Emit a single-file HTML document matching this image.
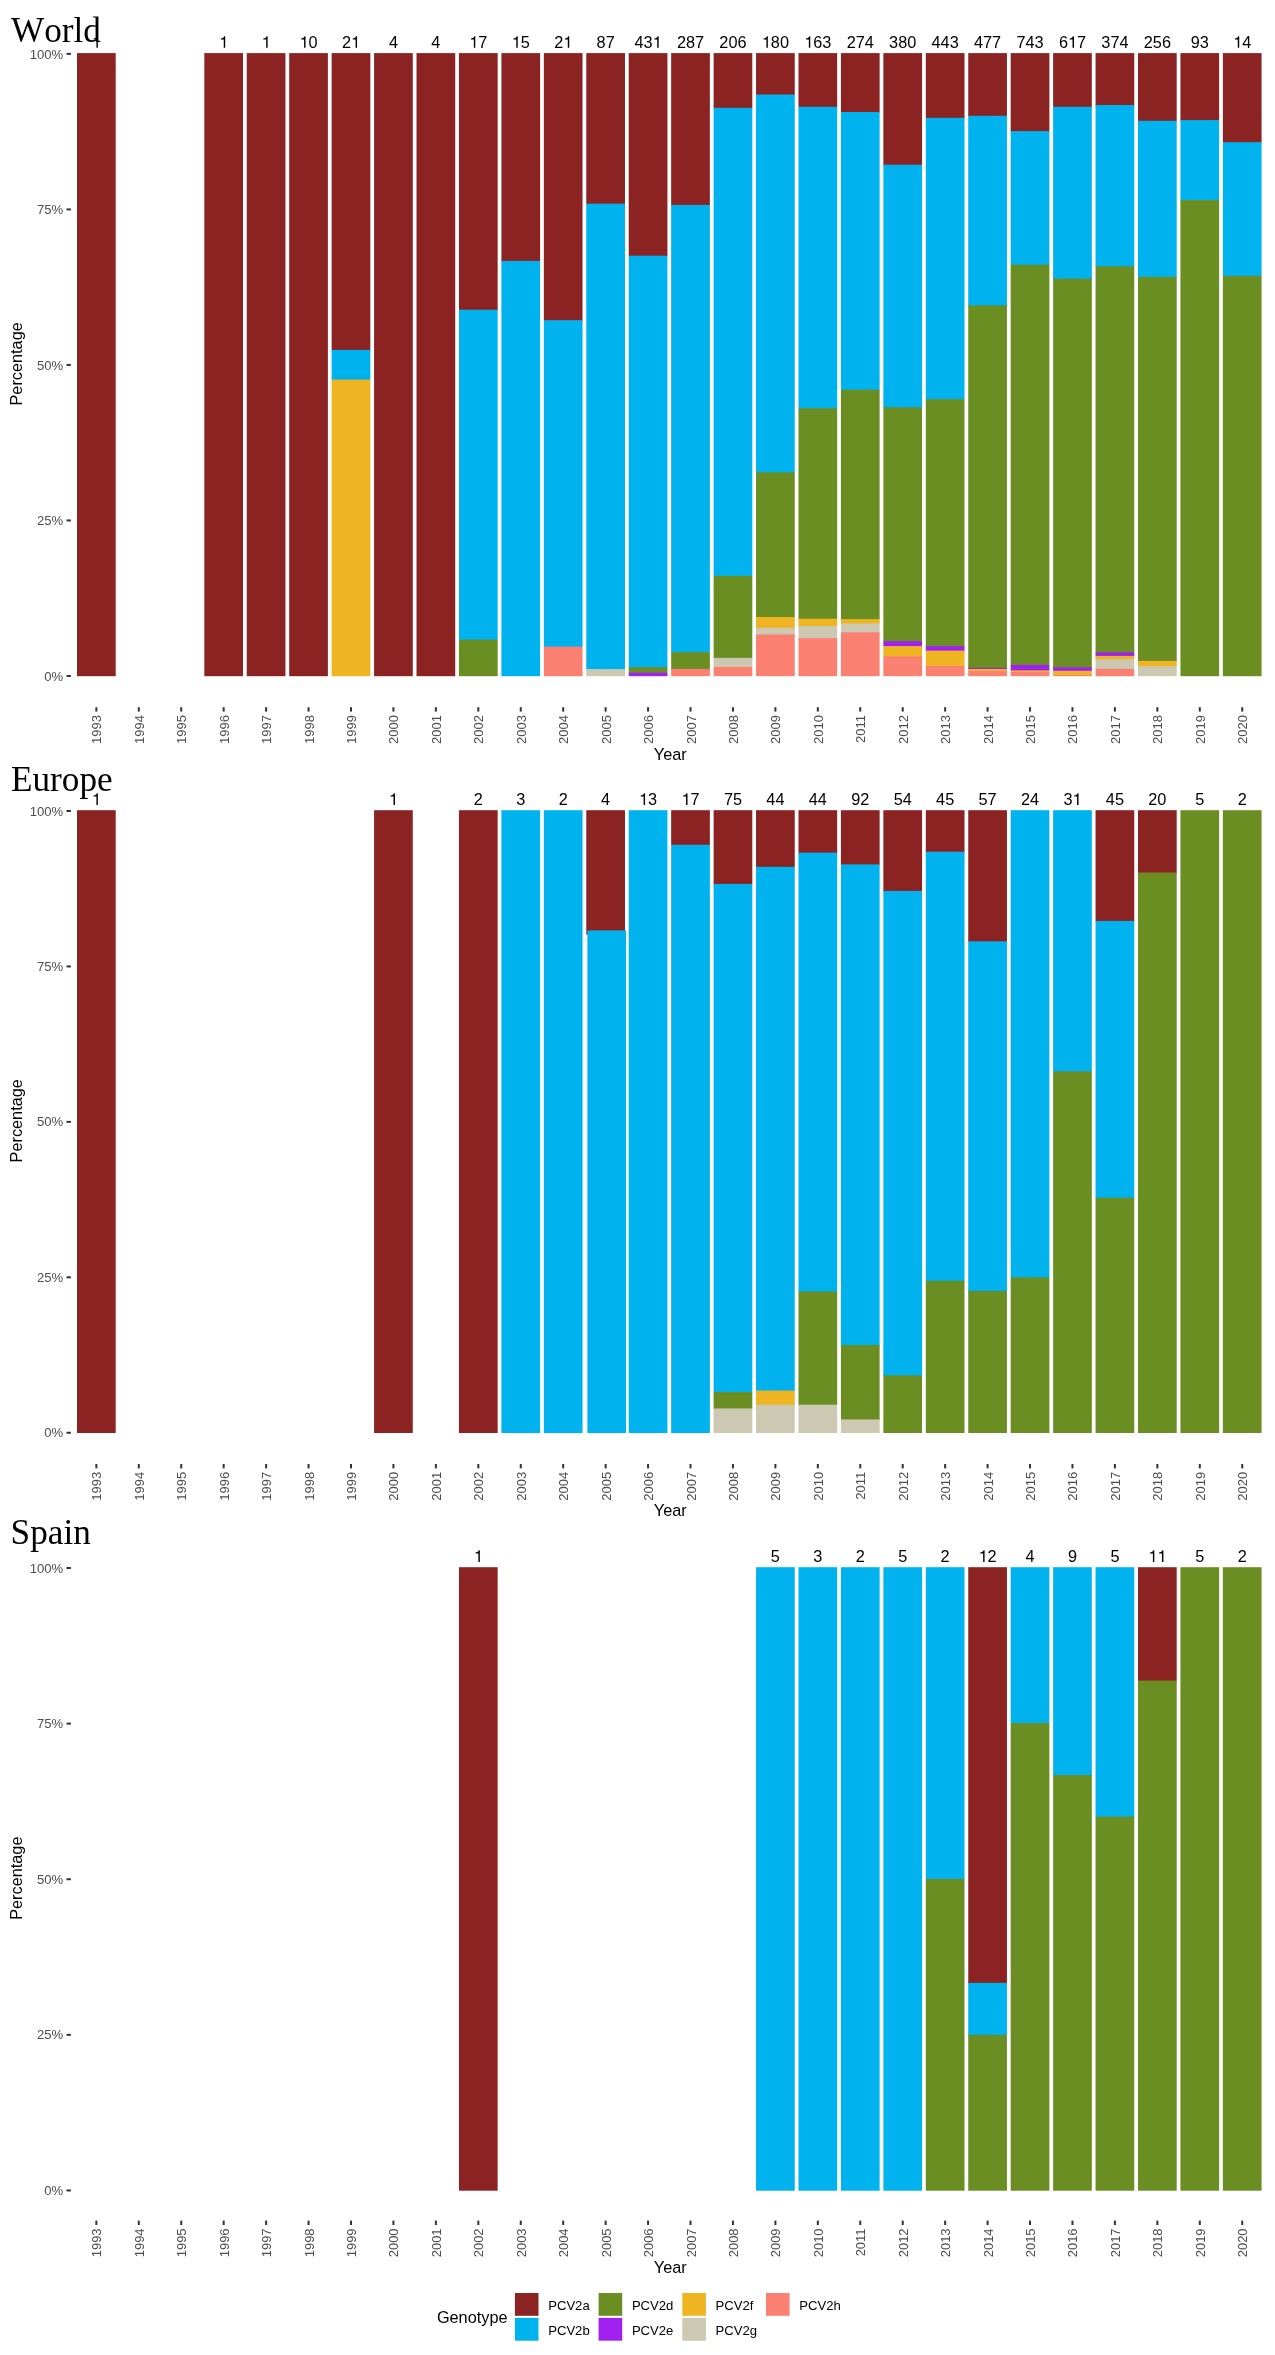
<!DOCTYPE html>
<html><head><meta charset="utf-8"><title>PCV2 genotypes</title>
<style>
html,body{margin:0;padding:0;background:#fff}
svg{display:block;will-change:transform}
.t{font-family:"Liberation Serif",serif;font-size:35.2px;font-kerning:none;fill:#000}
.n{font-family:"Liberation Sans",sans-serif;font-size:16.3px;fill:#000;text-anchor:middle}
.y{font-family:"Liberation Sans",sans-serif;font-size:13.1px;fill:#4d4d4d;text-anchor:end}
.x{font-family:"Liberation Sans",sans-serif;font-size:13px;fill:#4d4d4d;text-anchor:end}
.a{font-family:"Liberation Sans",sans-serif;font-size:16.3px;fill:#000;text-anchor:middle}
.l{font-family:"Liberation Sans",sans-serif;font-size:13.1px;fill:#000}
.k{stroke:#333;stroke-width:2;fill:none}
</style></head><body>
<svg width="1275" height="2355" viewBox="0 0 1275 2355">
<rect width="1275" height="2355" fill="#fff"/>
<g>
<rect x="77.00" y="53.10" width="38.7" height="623.10" fill="#8B2323"/>
<rect x="204.32" y="53.10" width="38.7" height="623.10" fill="#8B2323"/>
<rect x="246.76" y="53.10" width="38.7" height="623.10" fill="#8B2323"/>
<rect x="289.20" y="53.10" width="38.7" height="623.10" fill="#8B2323"/>
<rect x="331.64" y="53.10" width="38.7" height="297.50" fill="#8B2323"/><rect x="331.64" y="349.90" width="38.7" height="30.40" fill="#00B2EE"/><rect x="331.64" y="379.60" width="38.7" height="296.60" fill="#EEB422"/>
<rect x="374.08" y="53.10" width="38.7" height="623.10" fill="#8B2323"/>
<rect x="416.52" y="53.10" width="38.7" height="623.10" fill="#8B2323"/>
<rect x="458.96" y="53.10" width="38.7" height="257.30" fill="#8B2323"/><rect x="458.96" y="309.70" width="38.7" height="330.60" fill="#00B2EE"/><rect x="458.96" y="639.60" width="38.7" height="36.60" fill="#6B8E23"/>
<rect x="501.40" y="53.10" width="38.7" height="208.50" fill="#8B2323"/><rect x="501.40" y="260.90" width="38.7" height="415.30" fill="#00B2EE"/>
<rect x="543.84" y="53.10" width="38.7" height="267.80" fill="#8B2323"/><rect x="543.84" y="320.20" width="38.7" height="327.10" fill="#00B2EE"/><rect x="543.84" y="646.60" width="38.7" height="29.60" fill="#FA8072"/>
<rect x="586.28" y="53.10" width="38.7" height="151.30" fill="#8B2323"/><rect x="586.28" y="203.70" width="38.7" height="466.10" fill="#00B2EE"/><rect x="586.28" y="669.10" width="38.7" height="7.10" fill="#CDC8B1"/>
<rect x="628.72" y="53.10" width="38.7" height="203.30" fill="#8B2323"/><rect x="628.72" y="255.70" width="38.7" height="412.20" fill="#00B2EE"/><rect x="628.72" y="667.20" width="38.7" height="6.20" fill="#6B8E23"/><rect x="628.72" y="672.70" width="38.7" height="3.50" fill="#A020F0"/>
<rect x="671.16" y="53.10" width="38.7" height="152.50" fill="#8B2323"/><rect x="671.16" y="204.90" width="38.7" height="447.90" fill="#00B2EE"/><rect x="671.16" y="652.10" width="38.7" height="17.50" fill="#6B8E23"/><rect x="671.16" y="668.90" width="38.7" height="7.30" fill="#FA8072"/>
<rect x="713.60" y="53.10" width="38.7" height="55.40" fill="#8B2323"/><rect x="713.60" y="107.80" width="38.7" height="468.70" fill="#00B2EE"/><rect x="713.60" y="575.80" width="38.7" height="82.80" fill="#6B8E23"/><rect x="713.60" y="657.90" width="38.7" height="9.70" fill="#CDC8B1"/><rect x="713.60" y="666.90" width="38.7" height="9.30" fill="#FA8072"/>
<rect x="756.04" y="53.10" width="38.7" height="42.10" fill="#8B2323"/><rect x="756.04" y="94.50" width="38.7" height="378.50" fill="#00B2EE"/><rect x="756.04" y="472.30" width="38.7" height="145.40" fill="#6B8E23"/><rect x="756.04" y="617.00" width="38.7" height="11.50" fill="#EEB422"/><rect x="756.04" y="627.80" width="38.7" height="7.40" fill="#CDC8B1"/><rect x="756.04" y="634.50" width="38.7" height="41.70" fill="#FA8072"/>
<rect x="798.48" y="53.10" width="38.7" height="54.40" fill="#8B2323"/><rect x="798.48" y="106.80" width="38.7" height="302.10" fill="#00B2EE"/><rect x="798.48" y="408.20" width="38.7" height="211.20" fill="#6B8E23"/><rect x="798.48" y="618.70" width="38.7" height="8.00" fill="#EEB422"/><rect x="798.48" y="626.00" width="38.7" height="12.80" fill="#CDC8B1"/><rect x="798.48" y="638.10" width="38.7" height="38.10" fill="#FA8072"/>
<rect x="840.92" y="53.10" width="38.7" height="59.60" fill="#8B2323"/><rect x="840.92" y="112.00" width="38.7" height="278.40" fill="#00B2EE"/><rect x="840.92" y="389.70" width="38.7" height="230.20" fill="#6B8E23"/><rect x="840.92" y="619.20" width="38.7" height="5.00" fill="#EEB422"/><rect x="840.92" y="623.50" width="38.7" height="9.50" fill="#CDC8B1"/><rect x="840.92" y="632.30" width="38.7" height="43.90" fill="#FA8072"/>
<rect x="883.36" y="53.10" width="38.7" height="112.30" fill="#8B2323"/><rect x="883.36" y="164.70" width="38.7" height="243.30" fill="#00B2EE"/><rect x="883.36" y="407.30" width="38.7" height="234.60" fill="#6B8E23"/><rect x="883.36" y="641.20" width="38.7" height="5.60" fill="#A020F0"/><rect x="883.36" y="646.10" width="38.7" height="10.90" fill="#EEB422"/><rect x="883.36" y="656.30" width="38.7" height="19.90" fill="#FA8072"/>
<rect x="925.80" y="53.10" width="38.7" height="65.40" fill="#8B2323"/><rect x="925.80" y="117.80" width="38.7" height="282.10" fill="#00B2EE"/><rect x="925.80" y="399.20" width="38.7" height="247.60" fill="#6B8E23"/><rect x="925.80" y="646.10" width="38.7" height="5.20" fill="#A020F0"/><rect x="925.80" y="650.60" width="38.7" height="16.10" fill="#EEB422"/><rect x="925.80" y="666.00" width="38.7" height="10.20" fill="#FA8072"/>
<rect x="968.24" y="53.10" width="38.7" height="63.40" fill="#8B2323"/><rect x="968.24" y="115.80" width="38.7" height="190.30" fill="#00B2EE"/><rect x="968.24" y="305.40" width="38.7" height="363.10" fill="#6B8E23"/><rect x="968.24" y="667.80" width="38.7" height="1.90" fill="#A020F0"/><rect x="968.24" y="669.00" width="38.7" height="2.80" fill="#EEB422"/><rect x="968.24" y="671.10" width="38.7" height="5.10" fill="#FA8072"/>
<rect x="1010.68" y="53.10" width="38.7" height="78.70" fill="#8B2323"/><rect x="1010.68" y="131.10" width="38.7" height="134.30" fill="#00B2EE"/><rect x="1010.68" y="264.70" width="38.7" height="400.90" fill="#6B8E23"/><rect x="1010.68" y="664.90" width="38.7" height="6.20" fill="#A020F0"/><rect x="1010.68" y="670.40" width="38.7" height="2.30" fill="#EEB422"/><rect x="1010.68" y="672.00" width="38.7" height="4.20" fill="#FA8072"/>
<rect x="1053.12" y="53.10" width="38.7" height="54.40" fill="#8B2323"/><rect x="1053.12" y="106.80" width="38.7" height="172.50" fill="#00B2EE"/><rect x="1053.12" y="278.60" width="38.7" height="389.40" fill="#6B8E23"/><rect x="1053.12" y="667.30" width="38.7" height="4.20" fill="#A020F0"/><rect x="1053.12" y="670.80" width="38.7" height="5.00" fill="#EEB422"/><rect x="1053.12" y="675.10" width="38.7" height="1.10" fill="#FA8072"/>
<rect x="1095.56" y="53.10" width="38.7" height="52.60" fill="#8B2323"/><rect x="1095.56" y="105.00" width="38.7" height="162.00" fill="#00B2EE"/><rect x="1095.56" y="266.30" width="38.7" height="386.80" fill="#6B8E23"/><rect x="1095.56" y="652.40" width="38.7" height="4.20" fill="#A020F0"/><rect x="1095.56" y="655.90" width="38.7" height="3.90" fill="#EEB422"/><rect x="1095.56" y="659.10" width="38.7" height="10.50" fill="#CDC8B1"/><rect x="1095.56" y="668.90" width="38.7" height="7.30" fill="#FA8072"/>
<rect x="1138.00" y="53.10" width="38.7" height="68.40" fill="#8B2323"/><rect x="1138.00" y="120.80" width="38.7" height="156.70" fill="#00B2EE"/><rect x="1138.00" y="276.80" width="38.7" height="384.80" fill="#6B8E23"/><rect x="1138.00" y="660.90" width="38.7" height="6.00" fill="#EEB422"/><rect x="1138.00" y="666.20" width="38.7" height="10.00" fill="#CDC8B1"/>
<rect x="1180.44" y="53.10" width="38.7" height="67.70" fill="#8B2323"/><rect x="1180.44" y="120.10" width="38.7" height="80.70" fill="#00B2EE"/><rect x="1180.44" y="200.10" width="38.7" height="476.10" fill="#6B8E23"/>
<rect x="1222.88" y="53.10" width="38.7" height="89.80" fill="#8B2323"/><rect x="1222.88" y="142.20" width="38.7" height="134.30" fill="#00B2EE"/><rect x="1222.88" y="275.80" width="38.7" height="400.40" fill="#6B8E23"/>
<path fill="#000" d="M96.43 47.80L97.87 47.80L97.87 36.13L96.90 36.13C96.63 37.12 95.49 38.15 93.53 38.38L93.53 39.45L96.43 39.45Z"/><path fill="#000" d="M223.75 47.80L225.19 47.80L225.19 36.13L224.22 36.13C223.95 37.12 222.81 38.15 220.85 38.38L220.85 39.45L223.75 39.45Z"/><path fill="#000" d="M266.19 47.80L267.63 47.80L267.63 36.13L266.66 36.13C266.39 37.12 265.25 38.15 263.29 38.38L263.29 39.45L266.19 39.45Z"/><path fill="#000" d="M304.10 47.80L305.53 47.80L305.53 36.13L304.57 36.13C304.30 37.12 303.15 38.15 301.20 38.38L301.20 39.45L304.10 39.45Z"/><text class="n" style="text-anchor:start" x="308.55" y="47.80">0</text><path fill="#000" d="M355.60 47.80L357.04 47.80L357.04 36.13L356.08 36.13C355.80 37.12 354.66 38.15 352.70 38.38L352.70 39.45L355.60 39.45Z"/><text class="n" style="text-anchor:start" x="341.93" y="47.80">2</text><text class="n" style="text-anchor:start" x="388.90" y="47.80">4</text><text class="n" style="text-anchor:start" x="431.34" y="47.80">4</text><path fill="#000" d="M473.86 47.80L475.29 47.80L475.29 36.13L474.33 36.13C474.06 37.12 472.91 38.15 470.96 38.38L470.96 39.45L473.86 39.45Z"/><text class="n" style="text-anchor:start" x="478.31" y="47.80">7</text><path fill="#000" d="M516.30 47.80L517.73 47.80L517.73 36.13L516.77 36.13C516.50 37.12 515.35 38.15 513.40 38.38L513.40 39.45L516.30 39.45Z"/><text class="n" style="text-anchor:start" x="520.75" y="47.80">5</text><path fill="#000" d="M567.80 47.80L569.24 47.80L569.24 36.13L568.28 36.13C568.00 37.12 566.86 38.15 564.90 38.38L564.90 39.45L567.80 39.45Z"/><text class="n" style="text-anchor:start" x="554.13" y="47.80">2</text><text class="n" style="text-anchor:start" x="596.57 605.63" y="47.80">87</text><path fill="#000" d="M657.21 47.80L658.65 47.80L658.65 36.13L657.69 36.13C657.41 37.12 656.27 38.15 654.31 38.38L654.31 39.45L657.21 39.45Z"/><text class="n" style="text-anchor:start" x="634.48 643.54" y="47.80">43</text><text class="n" style="text-anchor:start" x="676.92 685.98 695.04" y="47.80">287</text><text class="n" style="text-anchor:start" x="719.36 728.42 737.48" y="47.80">206</text><path fill="#000" d="M766.41 47.80L767.84 47.80L767.84 36.13L766.88 36.13C766.60 37.12 765.46 38.15 763.51 38.38L763.51 39.45L766.41 39.45Z"/><text class="n" style="text-anchor:start" x="770.86 779.92" y="47.80">80</text><path fill="#000" d="M808.85 47.80L810.28 47.80L810.28 36.13L809.32 36.13C809.04 37.12 807.90 38.15 805.95 38.38L805.95 39.45L808.85 39.45Z"/><text class="n" style="text-anchor:start" x="813.30 822.36" y="47.80">63</text><text class="n" style="text-anchor:start" x="846.68 855.74 864.80" y="47.80">274</text><text class="n" style="text-anchor:start" x="889.12 898.18 907.24" y="47.80">380</text><text class="n" style="text-anchor:start" x="931.56 940.62 949.68" y="47.80">443</text><text class="n" style="text-anchor:start" x="974.00 983.06 992.12" y="47.80">477</text><text class="n" style="text-anchor:start" x="1016.44 1025.50 1034.56" y="47.80">743</text><path fill="#000" d="M1072.55 47.80L1073.99 47.80L1073.99 36.13L1073.02 36.13C1072.75 37.12 1071.61 38.15 1069.65 38.38L1069.65 39.45L1072.55 39.45Z"/><text class="n" style="text-anchor:start" x="1058.88 1077.00" y="47.80">67</text><text class="n" style="text-anchor:start" x="1101.32 1110.38 1119.44" y="47.80">374</text><text class="n" style="text-anchor:start" x="1143.76 1152.82 1161.88" y="47.80">256</text><text class="n" style="text-anchor:start" x="1190.73 1199.79" y="47.80">93</text><path fill="#000" d="M1237.78 47.80L1239.21 47.80L1239.21 36.13L1238.25 36.13C1237.98 37.12 1236.83 38.15 1234.88 38.38L1234.88 39.45L1237.78 39.45Z"/><text class="n" style="text-anchor:start" x="1242.23" y="47.80">4</text>
<text class="y" x="63.2" y="58.50">100%</text><path class="k" d="M66.5 53.90H70.9"/><text class="y" x="63.2" y="214.01">75%</text><path class="k" d="M66.5 209.41H70.9"/><text class="y" x="63.2" y="369.53">50%</text><path class="k" d="M66.5 364.93H70.9"/><text class="y" x="63.2" y="525.04">25%</text><path class="k" d="M66.5 520.44H70.9"/><text class="y" x="63.2" y="680.55">0%</text><path class="k" d="M66.5 675.95H70.9"/>
<text class="a" transform="translate(21.6 363.85) rotate(-90)">Percentage</text>
<path class="k" d="M96.35 707.20V711.60"/><text class="x" transform="translate(101.35 715.00) rotate(-90)">1993</text><path class="k" d="M138.79 707.20V711.60"/><text class="x" transform="translate(143.79 715.00) rotate(-90)">1994</text><path class="k" d="M181.23 707.20V711.60"/><text class="x" transform="translate(186.23 715.00) rotate(-90)">1995</text><path class="k" d="M223.67 707.20V711.60"/><text class="x" transform="translate(228.67 715.00) rotate(-90)">1996</text><path class="k" d="M266.11 707.20V711.60"/><text class="x" transform="translate(271.11 715.00) rotate(-90)">1997</text><path class="k" d="M308.55 707.20V711.60"/><text class="x" transform="translate(313.55 715.00) rotate(-90)">1998</text><path class="k" d="M350.99 707.20V711.60"/><text class="x" transform="translate(355.99 715.00) rotate(-90)">1999</text><path class="k" d="M393.43 707.20V711.60"/><text class="x" transform="translate(398.43 715.00) rotate(-90)">2000</text><path class="k" d="M435.87 707.20V711.60"/><text class="x" transform="translate(440.87 715.00) rotate(-90)">2001</text><path class="k" d="M478.31 707.20V711.60"/><text class="x" transform="translate(483.31 715.00) rotate(-90)">2002</text><path class="k" d="M520.75 707.20V711.60"/><text class="x" transform="translate(525.75 715.00) rotate(-90)">2003</text><path class="k" d="M563.19 707.20V711.60"/><text class="x" transform="translate(568.19 715.00) rotate(-90)">2004</text><path class="k" d="M605.63 707.20V711.60"/><text class="x" transform="translate(610.63 715.00) rotate(-90)">2005</text><path class="k" d="M648.07 707.20V711.60"/><text class="x" transform="translate(653.07 715.00) rotate(-90)">2006</text><path class="k" d="M690.51 707.20V711.60"/><text class="x" transform="translate(695.51 715.00) rotate(-90)">2007</text><path class="k" d="M732.95 707.20V711.60"/><text class="x" transform="translate(737.95 715.00) rotate(-90)">2008</text><path class="k" d="M775.39 707.20V711.60"/><text class="x" transform="translate(780.39 715.00) rotate(-90)">2009</text><path class="k" d="M817.83 707.20V711.60"/><text class="x" transform="translate(822.83 715.00) rotate(-90)">2010</text><path class="k" d="M860.27 707.20V711.60"/><text class="x" transform="translate(865.27 715.00) rotate(-90)">2011</text><path class="k" d="M902.71 707.20V711.60"/><text class="x" transform="translate(907.71 715.00) rotate(-90)">2012</text><path class="k" d="M945.15 707.20V711.60"/><text class="x" transform="translate(950.15 715.00) rotate(-90)">2013</text><path class="k" d="M987.59 707.20V711.60"/><text class="x" transform="translate(992.59 715.00) rotate(-90)">2014</text><path class="k" d="M1030.03 707.20V711.60"/><text class="x" transform="translate(1035.03 715.00) rotate(-90)">2015</text><path class="k" d="M1072.47 707.20V711.60"/><text class="x" transform="translate(1077.47 715.00) rotate(-90)">2016</text><path class="k" d="M1114.91 707.20V711.60"/><text class="x" transform="translate(1119.91 715.00) rotate(-90)">2017</text><path class="k" d="M1157.35 707.20V711.60"/><text class="x" transform="translate(1162.35 715.00) rotate(-90)">2018</text><path class="k" d="M1199.79 707.20V711.60"/><text class="x" transform="translate(1204.79 715.00) rotate(-90)">2019</text><path class="k" d="M1242.23 707.20V711.60"/><text class="x" transform="translate(1247.23 715.00) rotate(-90)">2020</text>
<text class="a" x="670.3" y="759.60">Year</text>
<text class="t" x="11.0" y="41.8">World</text>
</g>
<g>
<rect x="77.00" y="810.20" width="38.7" height="622.80" fill="#8B2323"/>
<rect x="374.08" y="810.20" width="38.7" height="622.80" fill="#8B2323"/>
<rect x="458.96" y="810.20" width="38.7" height="622.80" fill="#8B2323"/>
<rect x="501.40" y="810.20" width="38.7" height="622.80" fill="#00B2EE"/>
<rect x="543.84" y="810.20" width="38.7" height="622.80" fill="#00B2EE"/>
<rect x="586.28" y="810.20" width="38.7" height="124.56" fill="#8B2323"/><rect x="587.38" y="930.40" width="38.7" height="502.60" fill="#00B2EE"/>
<rect x="628.72" y="810.20" width="38.7" height="622.80" fill="#00B2EE"/>
<rect x="671.16" y="810.20" width="38.7" height="35.30" fill="#8B2323"/><rect x="671.16" y="844.80" width="38.7" height="588.20" fill="#00B2EE"/>
<rect x="713.60" y="810.20" width="38.7" height="74.45" fill="#8B2323"/><rect x="713.60" y="883.95" width="38.7" height="508.77" fill="#00B2EE"/><rect x="713.60" y="1392.03" width="38.7" height="17.09" fill="#6B8E23"/><rect x="713.60" y="1408.42" width="38.7" height="24.58" fill="#CDC8B1"/>
<rect x="756.04" y="810.20" width="38.7" height="57.32" fill="#8B2323"/><rect x="756.04" y="866.82" width="38.7" height="524.42" fill="#00B2EE"/><rect x="756.04" y="1390.54" width="38.7" height="14.85" fill="#EEB422"/><rect x="756.04" y="1404.69" width="38.7" height="28.31" fill="#CDC8B1"/>
<rect x="798.48" y="810.20" width="38.7" height="43.16" fill="#8B2323"/><rect x="798.48" y="852.66" width="38.7" height="439.49" fill="#00B2EE"/><rect x="798.48" y="1291.45" width="38.7" height="113.94" fill="#6B8E23"/><rect x="798.48" y="1404.69" width="38.7" height="28.31" fill="#CDC8B1"/>
<rect x="840.92" y="810.20" width="38.7" height="54.86" fill="#8B2323"/><rect x="840.92" y="864.36" width="38.7" height="481.34" fill="#00B2EE"/><rect x="840.92" y="1345.00" width="38.7" height="75.17" fill="#6B8E23"/><rect x="840.92" y="1419.46" width="38.7" height="13.54" fill="#CDC8B1"/>
<rect x="883.36" y="810.20" width="38.7" height="81.43" fill="#8B2323"/><rect x="883.36" y="890.93" width="38.7" height="485.10" fill="#00B2EE"/><rect x="883.36" y="1375.33" width="38.7" height="57.67" fill="#6B8E23"/>
<rect x="925.80" y="810.20" width="38.7" height="42.22" fill="#8B2323"/><rect x="925.80" y="851.72" width="38.7" height="429.74" fill="#00B2EE"/><rect x="925.80" y="1280.76" width="38.7" height="152.24" fill="#6B8E23"/>
<rect x="968.24" y="810.20" width="38.7" height="131.82" fill="#8B2323"/><rect x="968.24" y="941.32" width="38.7" height="350.34" fill="#00B2EE"/><rect x="968.24" y="1290.96" width="38.7" height="142.04" fill="#6B8E23"/>
<rect x="1010.68" y="810.20" width="38.7" height="467.80" fill="#00B2EE"/><rect x="1010.68" y="1277.30" width="38.7" height="155.70" fill="#6B8E23"/>
<rect x="1053.12" y="810.20" width="38.7" height="261.87" fill="#00B2EE"/><rect x="1053.12" y="1071.37" width="38.7" height="361.63" fill="#6B8E23"/>
<rect x="1095.56" y="810.20" width="38.7" height="111.42" fill="#8B2323"/><rect x="1095.56" y="920.92" width="38.7" height="277.50" fill="#00B2EE"/><rect x="1095.56" y="1197.72" width="38.7" height="235.28" fill="#6B8E23"/>
<rect x="1138.00" y="810.20" width="38.7" height="62.98" fill="#8B2323"/><rect x="1138.00" y="872.48" width="38.7" height="560.52" fill="#6B8E23"/>
<rect x="1180.44" y="810.20" width="38.7" height="622.80" fill="#6B8E23"/>
<rect x="1222.88" y="810.20" width="38.7" height="622.80" fill="#6B8E23"/>
<path fill="#000" d="M96.43 804.90L97.87 804.90L97.87 793.23L96.90 793.23C96.63 794.22 95.49 795.25 93.53 795.48L93.53 796.55L96.43 796.55Z"/><path fill="#000" d="M393.51 804.90L394.95 804.90L394.95 793.23L393.98 793.23C393.71 794.22 392.57 795.25 390.61 795.48L390.61 796.55L393.51 796.55Z"/><text class="n" style="text-anchor:start" x="473.78" y="804.90">2</text><text class="n" style="text-anchor:start" x="516.22" y="804.90">3</text><text class="n" style="text-anchor:start" x="558.66" y="804.90">2</text><text class="n" style="text-anchor:start" x="601.10" y="804.90">4</text><path fill="#000" d="M643.62 804.90L645.05 804.90L645.05 793.23L644.09 793.23C643.82 794.22 642.67 795.25 640.72 795.48L640.72 796.55L643.62 796.55Z"/><text class="n" style="text-anchor:start" x="648.07" y="804.90">3</text><path fill="#000" d="M686.06 804.90L687.49 804.90L687.49 793.23L686.53 793.23C686.26 794.22 685.11 795.25 683.16 795.48L683.16 796.55L686.06 796.55Z"/><text class="n" style="text-anchor:start" x="690.51" y="804.90">7</text><text class="n" style="text-anchor:start" x="723.89 732.95" y="804.90">75</text><text class="n" style="text-anchor:start" x="766.33 775.39" y="804.90">44</text><text class="n" style="text-anchor:start" x="808.77 817.83" y="804.90">44</text><text class="n" style="text-anchor:start" x="851.21 860.27" y="804.90">92</text><text class="n" style="text-anchor:start" x="893.65 902.71" y="804.90">54</text><text class="n" style="text-anchor:start" x="936.09 945.15" y="804.90">45</text><text class="n" style="text-anchor:start" x="978.53 987.59" y="804.90">57</text><text class="n" style="text-anchor:start" x="1020.97 1030.03" y="804.90">24</text><path fill="#000" d="M1077.08 804.90L1078.52 804.90L1078.52 793.23L1077.56 793.23C1077.28 794.22 1076.14 795.25 1074.18 795.48L1074.18 796.55L1077.08 796.55Z"/><text class="n" style="text-anchor:start" x="1063.41" y="804.90">3</text><text class="n" style="text-anchor:start" x="1105.85 1114.91" y="804.90">45</text><text class="n" style="text-anchor:start" x="1148.29 1157.35" y="804.90">20</text><text class="n" style="text-anchor:start" x="1195.26" y="804.90">5</text><text class="n" style="text-anchor:start" x="1237.70" y="804.90">2</text>
<text class="y" x="63.2" y="815.60">100%</text><path class="k" d="M66.5 811.00H70.9"/><text class="y" x="63.2" y="971.04">75%</text><path class="k" d="M66.5 966.44H70.9"/><text class="y" x="63.2" y="1126.47">50%</text><path class="k" d="M66.5 1121.88H70.9"/><text class="y" x="63.2" y="1281.91">25%</text><path class="k" d="M66.5 1277.31H70.9"/><text class="y" x="63.2" y="1437.35">0%</text><path class="k" d="M66.5 1432.75H70.9"/>
<text class="a" transform="translate(21.6 1120.80) rotate(-90)">Percentage</text>
<path class="k" d="M96.35 1464.00V1468.40"/><text class="x" transform="translate(101.35 1471.80) rotate(-90)">1993</text><path class="k" d="M138.79 1464.00V1468.40"/><text class="x" transform="translate(143.79 1471.80) rotate(-90)">1994</text><path class="k" d="M181.23 1464.00V1468.40"/><text class="x" transform="translate(186.23 1471.80) rotate(-90)">1995</text><path class="k" d="M223.67 1464.00V1468.40"/><text class="x" transform="translate(228.67 1471.80) rotate(-90)">1996</text><path class="k" d="M266.11 1464.00V1468.40"/><text class="x" transform="translate(271.11 1471.80) rotate(-90)">1997</text><path class="k" d="M308.55 1464.00V1468.40"/><text class="x" transform="translate(313.55 1471.80) rotate(-90)">1998</text><path class="k" d="M350.99 1464.00V1468.40"/><text class="x" transform="translate(355.99 1471.80) rotate(-90)">1999</text><path class="k" d="M393.43 1464.00V1468.40"/><text class="x" transform="translate(398.43 1471.80) rotate(-90)">2000</text><path class="k" d="M435.87 1464.00V1468.40"/><text class="x" transform="translate(440.87 1471.80) rotate(-90)">2001</text><path class="k" d="M478.31 1464.00V1468.40"/><text class="x" transform="translate(483.31 1471.80) rotate(-90)">2002</text><path class="k" d="M520.75 1464.00V1468.40"/><text class="x" transform="translate(525.75 1471.80) rotate(-90)">2003</text><path class="k" d="M563.19 1464.00V1468.40"/><text class="x" transform="translate(568.19 1471.80) rotate(-90)">2004</text><path class="k" d="M605.63 1464.00V1468.40"/><text class="x" transform="translate(610.63 1471.80) rotate(-90)">2005</text><path class="k" d="M648.07 1464.00V1468.40"/><text class="x" transform="translate(653.07 1471.80) rotate(-90)">2006</text><path class="k" d="M690.51 1464.00V1468.40"/><text class="x" transform="translate(695.51 1471.80) rotate(-90)">2007</text><path class="k" d="M732.95 1464.00V1468.40"/><text class="x" transform="translate(737.95 1471.80) rotate(-90)">2008</text><path class="k" d="M775.39 1464.00V1468.40"/><text class="x" transform="translate(780.39 1471.80) rotate(-90)">2009</text><path class="k" d="M817.83 1464.00V1468.40"/><text class="x" transform="translate(822.83 1471.80) rotate(-90)">2010</text><path class="k" d="M860.27 1464.00V1468.40"/><text class="x" transform="translate(865.27 1471.80) rotate(-90)">2011</text><path class="k" d="M902.71 1464.00V1468.40"/><text class="x" transform="translate(907.71 1471.80) rotate(-90)">2012</text><path class="k" d="M945.15 1464.00V1468.40"/><text class="x" transform="translate(950.15 1471.80) rotate(-90)">2013</text><path class="k" d="M987.59 1464.00V1468.40"/><text class="x" transform="translate(992.59 1471.80) rotate(-90)">2014</text><path class="k" d="M1030.03 1464.00V1468.40"/><text class="x" transform="translate(1035.03 1471.80) rotate(-90)">2015</text><path class="k" d="M1072.47 1464.00V1468.40"/><text class="x" transform="translate(1077.47 1471.80) rotate(-90)">2016</text><path class="k" d="M1114.91 1464.00V1468.40"/><text class="x" transform="translate(1119.91 1471.80) rotate(-90)">2017</text><path class="k" d="M1157.35 1464.00V1468.40"/><text class="x" transform="translate(1162.35 1471.80) rotate(-90)">2018</text><path class="k" d="M1199.79 1464.00V1468.40"/><text class="x" transform="translate(1204.79 1471.80) rotate(-90)">2019</text><path class="k" d="M1242.23 1464.00V1468.40"/><text class="x" transform="translate(1247.23 1471.80) rotate(-90)">2020</text>
<text class="a" x="670.3" y="1516.30">Year</text>
<text class="t" x="11.0" y="791.1">Europe</text>
</g>
<g>
<rect x="458.96" y="1567.20" width="38.7" height="623.50" fill="#8B2323"/>
<rect x="756.04" y="1567.20" width="38.7" height="623.50" fill="#00B2EE"/>
<rect x="798.48" y="1567.20" width="38.7" height="623.50" fill="#00B2EE"/>
<rect x="840.92" y="1567.20" width="38.7" height="623.50" fill="#00B2EE"/>
<rect x="883.36" y="1567.20" width="38.7" height="623.50" fill="#00B2EE"/>
<rect x="925.80" y="1567.20" width="38.7" height="312.45" fill="#00B2EE"/><rect x="925.80" y="1878.95" width="38.7" height="311.75" fill="#6B8E23"/>
<rect x="968.24" y="1567.20" width="38.7" height="416.37" fill="#8B2323"/><rect x="968.24" y="1982.87" width="38.7" height="52.66" fill="#00B2EE"/><rect x="968.24" y="2034.83" width="38.7" height="155.87" fill="#6B8E23"/>
<rect x="1010.68" y="1567.20" width="38.7" height="156.58" fill="#00B2EE"/><rect x="1010.68" y="1723.08" width="38.7" height="467.62" fill="#6B8E23"/>
<rect x="1053.12" y="1567.20" width="38.7" height="208.53" fill="#00B2EE"/><rect x="1053.12" y="1775.03" width="38.7" height="415.67" fill="#6B8E23"/>
<rect x="1095.56" y="1567.20" width="38.7" height="250.10" fill="#00B2EE"/><rect x="1095.56" y="1816.60" width="38.7" height="374.10" fill="#6B8E23"/>
<rect x="1138.00" y="1567.20" width="38.7" height="114.06" fill="#8B2323"/><rect x="1138.00" y="1680.56" width="38.7" height="510.14" fill="#6B8E23"/>
<rect x="1180.44" y="1567.20" width="38.7" height="623.50" fill="#6B8E23"/>
<rect x="1222.88" y="1567.20" width="38.7" height="623.50" fill="#6B8E23"/>
<path fill="#000" d="M478.39 1561.90L479.83 1561.90L479.83 1550.23L478.86 1550.23C478.59 1551.22 477.45 1552.25 475.49 1552.48L475.49 1553.55L478.39 1553.55Z"/><text class="n" style="text-anchor:start" x="770.86" y="1561.90">5</text><text class="n" style="text-anchor:start" x="813.30" y="1561.90">3</text><text class="n" style="text-anchor:start" x="855.74" y="1561.90">2</text><text class="n" style="text-anchor:start" x="898.18" y="1561.90">5</text><text class="n" style="text-anchor:start" x="940.62" y="1561.90">2</text><path fill="#000" d="M983.14 1561.90L984.57 1561.90L984.57 1550.23L983.61 1550.23C983.34 1551.22 982.19 1552.25 980.24 1552.48L980.24 1553.55L983.14 1553.55Z"/><text class="n" style="text-anchor:start" x="987.59" y="1561.90">2</text><text class="n" style="text-anchor:start" x="1025.50" y="1561.90">4</text><text class="n" style="text-anchor:start" x="1067.94" y="1561.90">9</text><text class="n" style="text-anchor:start" x="1110.38" y="1561.90">5</text><path fill="#000" d="M1152.90 1561.90L1154.33 1561.90L1154.33 1550.23L1153.37 1550.23C1153.10 1551.22 1151.95 1552.25 1150.00 1552.48L1150.00 1553.55L1152.90 1553.55Z"/><path fill="#000" d="M1161.96 1561.90L1163.40 1561.90L1163.40 1550.23L1162.44 1550.23C1162.16 1551.22 1161.02 1552.25 1159.06 1552.48L1159.06 1553.55L1161.96 1553.55Z"/><text class="n" style="text-anchor:start" x="1195.26" y="1561.90">5</text><text class="n" style="text-anchor:start" x="1237.70" y="1561.90">2</text>
<text class="y" x="63.2" y="1572.60">100%</text><path class="k" d="M66.5 1568.00H70.9"/><text class="y" x="63.2" y="1728.21">75%</text><path class="k" d="M66.5 1723.61H70.9"/><text class="y" x="63.2" y="1883.82">50%</text><path class="k" d="M66.5 1879.22H70.9"/><text class="y" x="63.2" y="2039.44">25%</text><path class="k" d="M66.5 2034.84H70.9"/><text class="y" x="63.2" y="2195.05">0%</text><path class="k" d="M66.5 2190.45H70.9"/>
<text class="a" transform="translate(21.6 1878.15) rotate(-90)">Percentage</text>
<path class="k" d="M96.35 2220.60V2225.00"/><text class="x" transform="translate(101.35 2228.40) rotate(-90)">1993</text><path class="k" d="M138.79 2220.60V2225.00"/><text class="x" transform="translate(143.79 2228.40) rotate(-90)">1994</text><path class="k" d="M181.23 2220.60V2225.00"/><text class="x" transform="translate(186.23 2228.40) rotate(-90)">1995</text><path class="k" d="M223.67 2220.60V2225.00"/><text class="x" transform="translate(228.67 2228.40) rotate(-90)">1996</text><path class="k" d="M266.11 2220.60V2225.00"/><text class="x" transform="translate(271.11 2228.40) rotate(-90)">1997</text><path class="k" d="M308.55 2220.60V2225.00"/><text class="x" transform="translate(313.55 2228.40) rotate(-90)">1998</text><path class="k" d="M350.99 2220.60V2225.00"/><text class="x" transform="translate(355.99 2228.40) rotate(-90)">1999</text><path class="k" d="M393.43 2220.60V2225.00"/><text class="x" transform="translate(398.43 2228.40) rotate(-90)">2000</text><path class="k" d="M435.87 2220.60V2225.00"/><text class="x" transform="translate(440.87 2228.40) rotate(-90)">2001</text><path class="k" d="M478.31 2220.60V2225.00"/><text class="x" transform="translate(483.31 2228.40) rotate(-90)">2002</text><path class="k" d="M520.75 2220.60V2225.00"/><text class="x" transform="translate(525.75 2228.40) rotate(-90)">2003</text><path class="k" d="M563.19 2220.60V2225.00"/><text class="x" transform="translate(568.19 2228.40) rotate(-90)">2004</text><path class="k" d="M605.63 2220.60V2225.00"/><text class="x" transform="translate(610.63 2228.40) rotate(-90)">2005</text><path class="k" d="M648.07 2220.60V2225.00"/><text class="x" transform="translate(653.07 2228.40) rotate(-90)">2006</text><path class="k" d="M690.51 2220.60V2225.00"/><text class="x" transform="translate(695.51 2228.40) rotate(-90)">2007</text><path class="k" d="M732.95 2220.60V2225.00"/><text class="x" transform="translate(737.95 2228.40) rotate(-90)">2008</text><path class="k" d="M775.39 2220.60V2225.00"/><text class="x" transform="translate(780.39 2228.40) rotate(-90)">2009</text><path class="k" d="M817.83 2220.60V2225.00"/><text class="x" transform="translate(822.83 2228.40) rotate(-90)">2010</text><path class="k" d="M860.27 2220.60V2225.00"/><text class="x" transform="translate(865.27 2228.40) rotate(-90)">2011</text><path class="k" d="M902.71 2220.60V2225.00"/><text class="x" transform="translate(907.71 2228.40) rotate(-90)">2012</text><path class="k" d="M945.15 2220.60V2225.00"/><text class="x" transform="translate(950.15 2228.40) rotate(-90)">2013</text><path class="k" d="M987.59 2220.60V2225.00"/><text class="x" transform="translate(992.59 2228.40) rotate(-90)">2014</text><path class="k" d="M1030.03 2220.60V2225.00"/><text class="x" transform="translate(1035.03 2228.40) rotate(-90)">2015</text><path class="k" d="M1072.47 2220.60V2225.00"/><text class="x" transform="translate(1077.47 2228.40) rotate(-90)">2016</text><path class="k" d="M1114.91 2220.60V2225.00"/><text class="x" transform="translate(1119.91 2228.40) rotate(-90)">2017</text><path class="k" d="M1157.35 2220.60V2225.00"/><text class="x" transform="translate(1162.35 2228.40) rotate(-90)">2018</text><path class="k" d="M1199.79 2220.60V2225.00"/><text class="x" transform="translate(1204.79 2228.40) rotate(-90)">2019</text><path class="k" d="M1242.23 2220.60V2225.00"/><text class="x" transform="translate(1247.23 2228.40) rotate(-90)">2020</text>
<text class="a" x="670.3" y="2272.60">Year</text>
<text class="t" x="10.6" y="1544.0">Spain</text>
</g>
<text class="a" style="text-anchor:start" x="436.9" y="2322.8">Genotype</text>
<rect x="514.90" y="2293.00" width="23.6" height="22.8" fill="#8B2323"/><text class="l" x="548.20" y="2309.50">PCV2a</text>
<rect x="514.90" y="2317.90" width="23.6" height="22.8" fill="#00B2EE"/><text class="l" x="548.20" y="2334.80">PCV2b</text>
<rect x="598.60" y="2293.00" width="23.6" height="22.8" fill="#6B8E23"/><text class="l" x="631.90" y="2309.50">PCV2d</text>
<rect x="598.60" y="2317.90" width="23.6" height="22.8" fill="#A020F0"/><text class="l" x="631.90" y="2334.80">PCV2e</text>
<rect x="682.30" y="2293.00" width="23.6" height="22.8" fill="#EEB422"/><text class="l" x="715.60" y="2309.50">PCV2f</text>
<rect x="682.30" y="2317.90" width="23.6" height="22.8" fill="#CDC8B1"/><text class="l" x="715.60" y="2334.80">PCV2g</text>
<rect x="766.00" y="2293.00" width="23.6" height="22.8" fill="#FA8072"/><text class="l" x="799.30" y="2309.50">PCV2h</text>
</svg>
</body></html>
